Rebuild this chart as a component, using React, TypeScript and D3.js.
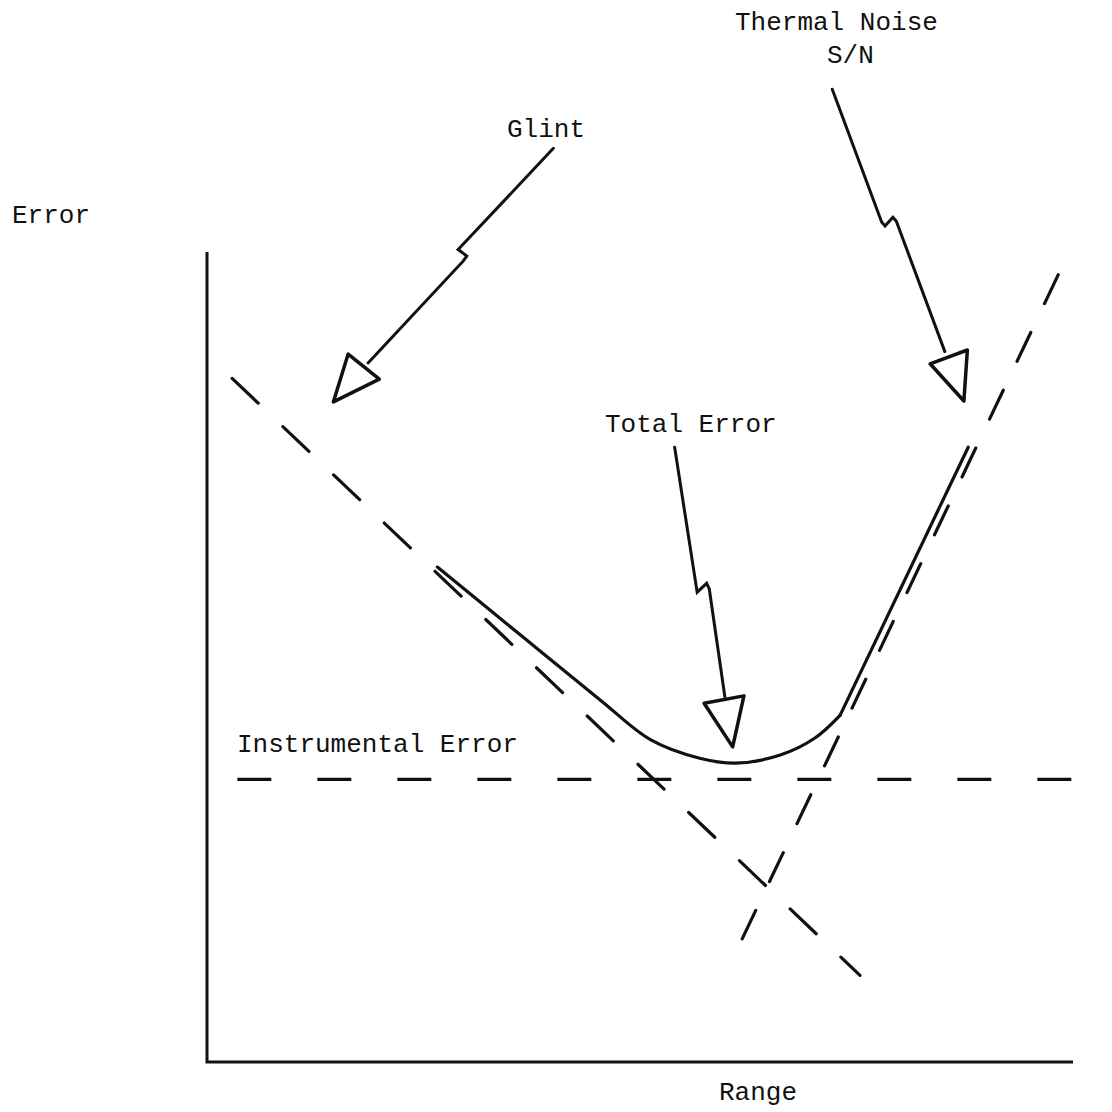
import React from "react";
import * as d3 from "d3";

// Abstract chart units: x = range (0..100), y = error (0..100)
type P = [number, number];

const axisPoints: P[] = [[0, 100], [0, 0], [100, 0]];
const glintLine: P[] = [[2.9, 84.4], [75.4, 10.7]];
const thermalLine: P[] = [[98.3, 97.2], [61.8, 15.2]];
const instrumentalLine: P[] = [[3.5, 34.9], [104.5, 34.9]];
const totalCurve: P[] = [
  [26.6, 61.1], [36.1, 52.8], [45.4, 44.7], [51.2, 39.8], [56.9, 37.5],
  [61.0, 36.9], [66.2, 37.9], [70.2, 40.0], [73.1, 42.8],
];
const totalStraight: P[] = [[73.1, 42.8], [87.9, 75.9]];

const glintArrow: P[] = [[40.0, 112.8], [29.0, 100.3], [30.0, 99.5], [29.6, 98.9], [18.6, 86.3]];
const glintHead: P[] = [[16.3, 87.4], [19.9, 84.3], [14.6, 81.5]];
const thermalArrow: P[] = [[72.2, 120.1], [77.9, 103.7], [78.3, 103.2], [79.2, 104.3], [79.6, 103.8], [85.2, 87.7]];
const thermalHead: P[] = [[83.5, 86.2], [87.8, 87.9], [87.4, 81.6]];
const totalArrow: P[] = [[54.0, 75.9], [56.6, 58.0], [57.7, 59.1], [58.0, 58.4], [59.8, 45.1]];
const totalHead: P[] = [[57.4, 44.3], [62.0, 45.2], [60.7, 38.9]];

const labels = ["Error", "Range", "Glint", "Thermal Noise", "S/N", "Total Error", "Instrumental Error"];

export default function App() {
  const W = 1112, H = 1112;
  const x = d3.scaleLinear().domain([0, 100]).range([207, 1073]);
  const y = d3.scaleLinear().domain([0, 100]).range([1062, 252]);
  const line = d3.line<P>().x((d) => x(d[0])).y((d) => y(d[1]));
  const smooth = d3.line<P>().x((d) => x(d[0])).y((d) => y(d[1])).curve(d3.curveCatmullRom.alpha(0.5));
  const tri = (pts: P[]) => line(pts)! + "Z";
  const font = "'Liberation Mono', 'DejaVu Sans Mono', monospace";
  const ts = { fontFamily: font, fontSize: 26, fill: "#111" } as const;

  return (
    <svg width={W} height={H} style={{ position: "absolute", left: 0, top: 0, background: "#fff" }}>
      <rect width={W} height={H} fill="#fff" />
      <path d={line(axisPoints)!} fill="none" stroke="#111" strokeWidth={3} />
      <path d={line(glintLine)!} fill="none" stroke="#111" strokeWidth={3.2} strokeDasharray="36 34" strokeLinecap="round" />
      <path d={line(thermalLine)!} fill="none" stroke="#111" strokeWidth={3.2} strokeDasharray="32 32" strokeLinecap="round" />
      <path d={line(instrumentalLine)!} fill="none" stroke="#111" strokeWidth={3.2} strokeDasharray="34 46" />
      <path d={smooth(totalCurve)!} fill="none" stroke="#111" strokeWidth={3.2} strokeLinecap="round" />
      <path d={line(totalStraight)!} fill="none" stroke="#111" strokeWidth={3.2} strokeLinecap="round" />

      {[glintArrow, thermalArrow, totalArrow].map((a, i) => (
        <path key={"a" + i} d={line(a)!} fill="none" stroke="#111" strokeWidth={3} strokeLinejoin="miter" strokeLinecap="round" />
      ))}
      {[glintHead, thermalHead, totalHead].map((h, i) => (
        <path key={"h" + i} d={tri(h)} fill="#fff" stroke="#111" strokeWidth={3.5} strokeLinejoin="round" />
      ))}

      <text x={12} y={223} {...ts}>{labels[0]}</text>
      <text x={719} y={1100} {...ts}>{labels[1]}</text>
      <text x={507} y={137} {...ts}>{labels[2]}</text>
      <text x={735} y={30} {...ts}>{labels[3]}</text>
      <text x={827} y={63} {...ts}>{labels[4]}</text>
      <text x={605} y={432} {...ts}>{labels[5]}</text>
      <text x={237} y={752} {...ts}>{labels[6]}</text>
    </svg>
  );
}
